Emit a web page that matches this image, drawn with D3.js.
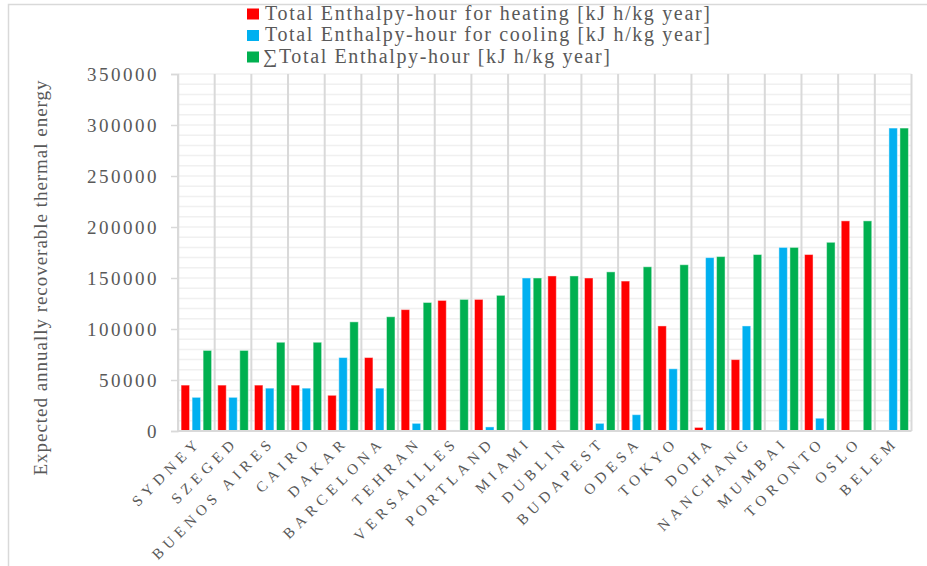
<!DOCTYPE html>
<html>
<head>
<meta charset="utf-8">
<script src="https://cdn.jsdelivr.net/npm/d3@7"></script>
<style>
  body { margin: 0; background: #fff; }
  svg text { fill: #595959; }
</style>
</head>
<body>
<svg id="chart" width="927" height="566"></svg>
<script>
// data
let cities = ["SYDNEY", "SZEGED", "BUENOS AIRES", "CAIRO", "DAKAR", "BARCELONA", "TEHRAN",
  "VERSAILLES", "PORTLAND", "MIAMI", "DUBLIN", "BUDAPEST", "ODESA", "TOKYO", "DOHA",
  "NANCHANG", "MUMBAI", "TORONTO", "OSLO", "BELEM"];
let heating = [45000, 45000, 45000, 45000, 35000, 72000, 119000, 128000, 129000, 0,
  152000, 150000, 147000, 103000, 3500, 70000, 0, 173000, 206000, 0];
let cooling = [33000, 33000, 42000, 42000, 72000, 42000, 7500, 1000, 4000, 150000,
  0, 7500, 16000, 61000, 170000, 103000, 180000, 12500, 0, 297000];
let total = [79000, 79000, 87000, 87000, 107000, 112000, 126000, 129000, 133000, 150000,
  152000, 156000, 161000, 163000, 171000, 173000, 180000, 185000, 206000, 297000];
let seriesNames = ["Total Enthalpy-hour for heating [kJ h/kg year]",
  "Total Enthalpy-hour for cooling [kJ h/kg year]",
  "\u2211Total Enthalpy-hour [kJ h/kg year]"];
let colors = ["#ff0000", "#00b0f0", "#00b050"];
let yTicks = [0, 50000, 100000, 150000, 200000, 250000, 300000, 350000];

let serif = "Liberation Serif, Times New Roman, Times, Tinos, Noto Serif, DejaVu Serif, FreeSerif, serif";
let svg = d3.select("#chart").attr("font-family", serif);
let pLeft = 178, pRight = 911.5, pTop = 74, pBottom = 431;

// chart frame
svg.append("path").attr("d", "M8.5,566 V4.5 H927")
  .attr("fill", "none").attr("stroke", "#d9d9d9").attr("stroke-width", 1.5);

let x = d3.scaleBand().domain(cities).range([pLeft, pRight]);
let xs = d3.scaleBand().domain([0, 1, 2]).range([0, x.bandwidth()])
  .paddingInner(0.23).paddingOuter(0.28);
let y = d3.scaleLinear().domain([0, 350000]).range([pBottom, pTop]);

// minor horizontal gridlines every 10000
svg.append("g").selectAll("line").data(d3.range(10000, 350001, 10000)).enter().append("line")
  .attr("x1", pLeft).attr("x2", pRight)
  .attr("y1", d => y(d)).attr("y2", d => y(d))
  .attr("stroke", "#f0f0f0").attr("stroke-width", 1.5);

// category separators
let edges = cities.map(c => x(c)).concat([pRight]);
svg.append("g").selectAll("line").data(edges).enter().append("line")
  .attr("x1", d => d).attr("x2", d => d)
  .attr("y1", pTop).attr("y2", pBottom)
  .attr("stroke", "#d9d9d9").attr("stroke-width", 2);

// bars
let rows = [];
cities.forEach((c, i) => {
  [heating[i], cooling[i], total[i]].forEach((v, k) => rows.push({ c: c, k: k, v: v }));
});
svg.append("g").selectAll("rect").data(rows.filter(d => d.v > 0)).enter().append("rect")
  .attr("x", d => x(d.c) + xs(d.k))
  .attr("width", xs.bandwidth())
  .attr("y", d => y(d.v))
  .attr("height", d => pBottom - y(d.v))
  .attr("fill", d => colors[d.k])
  .attr("stroke", "#fff").attr("stroke-opacity", 0.45).attr("stroke-width", 1);

// x axis line
svg.append("line").attr("x1", pLeft).attr("x2", pRight).attr("y1", pBottom).attr("y2", pBottom)
  .attr("stroke", "#d9d9d9").attr("stroke-width", 2);

// y axis
let yAxis = svg.append("g").attr("transform", "translate(" + pLeft + ",0)")
  .call(d3.axisLeft(y).tickValues(yTicks).tickSize(7).tickPadding(12).tickFormat(d3.format("d")));
yAxis.attr("font-family", serif).attr("font-size", 19);
yAxis.select(".domain").attr("stroke", "#d9d9d9").attr("stroke-width", 1.5);
yAxis.selectAll(".tick line").attr("stroke", "#d9d9d9").attr("stroke-width", 1.5);
yAxis.selectAll(".tick text").attr("fill", "#595959").attr("letter-spacing", 2.5);

// y title
svg.append("text")
  .attr("transform", "translate(47,278) rotate(-90)")
  .attr("text-anchor", "middle")
  .attr("textLength", 395).attr("lengthAdjust", "spacing")
  .attr("font-size", 19)
  .text("Expected annually recoverable thermal energy");

// x labels
svg.append("g").selectAll("text").data(cities).enter().append("text")
  .attr("transform", d => "translate(" + (x(d) + x.bandwidth() / 2 + 6) + ",443) rotate(-45)")
  .attr("text-anchor", "end")
  .attr("font-size", 15).attr("letter-spacing", 5)
  .text(d => d);

// legend
let legendLens = [445, 445, 347];
let lg = svg.append("g").selectAll("g").data(seriesNames).enter().append("g")
  .attr("transform", (d, i) => "translate(247," + (19.5 + i * 21.5) + ")");
lg.append("rect").attr("x", 0).attr("y", -11).attr("width", 12).attr("height", 11)
  .attr("fill", (d, i) => colors[i]);
lg.append("text").attr("x", (d, i) => i == 2 ? 16 : 18).attr("y", 0)
  .attr("textLength", (d, i) => legendLens[i]).attr("lengthAdjust", "spacing")
  .attr("font-size", 20)
  .text(d => d);
</script>
</body>
</html>
